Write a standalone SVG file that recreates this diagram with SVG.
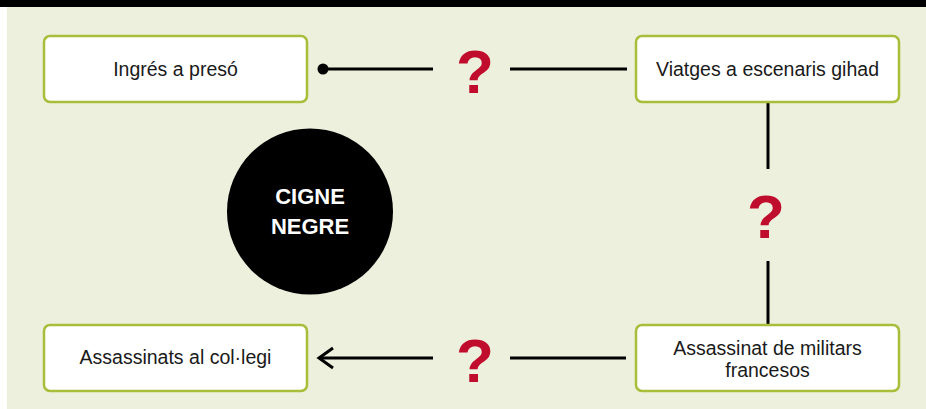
<svg xmlns="http://www.w3.org/2000/svg" width="926" height="409" viewBox="0 0 926 409">
<style>
.box{fill:#fff;stroke:#A8BE3A;stroke-width:2.5}
.lbl{font-family:"Liberation Sans",Arial,sans-serif;font-size:19.5px;fill:#1a1a1a;text-anchor:middle}
.q{font-family:"Liberation Sans",Arial,sans-serif;font-weight:bold;font-size:62px;fill:#C00D2D;text-anchor:middle}
.ln{stroke:#000;stroke-width:3;fill:none}
.cg{font-family:"Liberation Sans",Arial,sans-serif;font-weight:bold;font-size:22px;fill:#fff;text-anchor:middle}
</style>
<rect x="0" y="0" width="926" height="409" fill="#fff"/>
<rect x="7" y="0" width="919" height="409" fill="#EDF0DC"/>
<rect x="0" y="0" width="926" height="7" fill="#000"/>
<g id="connectors">
<circle cx="323" cy="69" r="5.5" fill="#000"/>
<line class="ln" x1="323" y1="69" x2="433" y2="69"/>
<line class="ln" x1="510" y1="69" x2="627" y2="69"/>
<text class="q" x="475" y="93">?</text>
<line class="ln" x1="768" y1="102" x2="768" y2="169"/>
<line class="ln" x1="768" y1="261" x2="768" y2="325"/>
<text class="q" x="766" y="238">?</text>
<line class="ln" x1="626" y1="358" x2="510" y2="358"/>
<line class="ln" x1="433" y1="358" x2="319" y2="358"/>
<polyline class="ln" points="333,348 319,358 333,368"/>
<text class="q" x="475" y="382">?</text>
</g>
<g id="n1"><rect class="box" x="44" y="36" width="263" height="66" rx="6"/><text class="lbl" x="175.5" y="76">Ingrés a presó</text></g>
<g id="n2"><rect class="box" x="636" y="36" width="263" height="66" rx="6"/><text class="lbl" x="767.5" y="76">Viatges a escenaris gihad</text></g>
<g id="n3"><rect class="box" x="636" y="325" width="263" height="66" rx="6"/><text class="lbl" x="767.5" y="355">Assassinat de militars</text><text class="lbl" x="767.5" y="377">francesos</text></g>
<g id="n4"><rect class="box" x="44" y="325" width="263" height="66" rx="6"/><text class="lbl" x="175.5" y="364">Assassinats al col·legi</text></g>
<g id="cigne"><circle cx="310" cy="211.5" r="83" fill="#000"/><text class="cg" x="310" y="204">CIGNE</text><text class="cg" x="310" y="234">NEGRE</text></g>
</svg>
